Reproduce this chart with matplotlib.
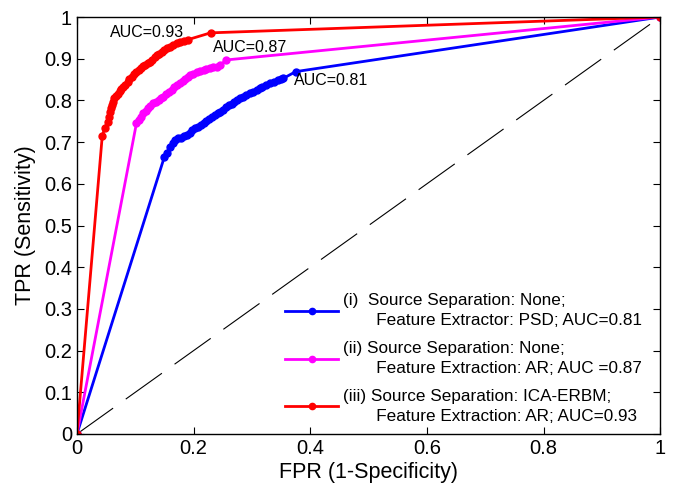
import matplotlib
matplotlib.use("Agg")
import matplotlib.pyplot as plt

plt.rcParams['font.family'] = ['Liberation Sans', 'DejaVu Sans']

# ROC curve data (FPR, TPR)
fpr_psd = [0.0, 0.150, 0.155, 0.160, 0.164, 0.168, 0.173, 0.178, 0.183, 0.188, 0.193, 0.198, 0.203,
           0.208, 0.213, 0.217, 0.222, 0.227, 0.232, 0.237, 0.241, 0.245, 0.250, 0.255, 0.260, 0.265,
           0.270, 0.274, 0.279, 0.284, 0.290, 0.296, 0.302, 0.308, 0.313, 0.318, 0.324, 0.331, 0.337,
           0.344, 0.350, 0.354, 0.375, 1.0]
tpr_psd = [0.0, 0.665, 0.675, 0.689, 0.698, 0.705, 0.709, 0.711, 0.714, 0.717, 0.722, 0.728, 0.733,
           0.737, 0.741, 0.745, 0.750, 0.755, 0.760, 0.764, 0.769, 0.773, 0.778, 0.783, 0.788, 0.792,
           0.797, 0.801, 0.805, 0.809, 0.812, 0.817, 0.821, 0.825, 0.829, 0.832, 0.836, 0.841, 0.844,
           0.848, 0.851, 0.853, 0.869, 1.0]

fpr_ar = [0.0, 0.102, 0.106, 0.110, 0.114, 0.118, 0.122, 0.126, 0.131, 0.135, 0.140, 0.144, 0.148,
          0.153, 0.158, 0.163, 0.167, 0.171, 0.176, 0.181, 0.186, 0.190, 0.194, 0.199, 0.205, 0.211,
          0.217, 0.222, 0.228, 0.234, 0.240, 0.245, 0.256, 1.0]
tpr_ar = [0.0, 0.745, 0.752, 0.760, 0.769, 0.775, 0.781, 0.787, 0.793, 0.797, 0.801, 0.805, 0.809,
          0.815, 0.821, 0.826, 0.831, 0.837, 0.842, 0.847, 0.852, 0.857, 0.861, 0.864, 0.868, 0.871,
          0.873, 0.875, 0.877, 0.879, 0.881, 0.884, 0.897, 1.0]

fpr_ica = [0.0, 0.0434, 0.0480, 0.0526, 0.0545, 0.0566, 0.0585, 0.0600, 0.0620, 0.0640, 0.0670, 0.0700,
           0.0730, 0.0760, 0.0795, 0.0830, 0.0870, 0.0900, 0.0940, 0.0980, 0.1020, 0.1060, 0.1100,
           0.1130, 0.1170, 0.1210, 0.1250, 0.1290, 0.1330, 0.1370, 0.1410, 0.1450, 0.1500, 0.1550,
           0.1600, 0.1650, 0.1710, 0.1760, 0.1830, 0.1910, 0.2290, 1.0]
tpr_ica = [0.0, 0.715, 0.735, 0.749, 0.760, 0.773, 0.781, 0.790, 0.797, 0.805, 0.810, 0.816,
           0.822, 0.828, 0.833, 0.838, 0.845, 0.851, 0.857, 0.863, 0.869, 0.873, 0.878,
           0.882, 0.886, 0.890, 0.893, 0.898, 0.903, 0.908, 0.912, 0.917, 0.921, 0.925,
           0.929, 0.933, 0.937, 0.939, 0.942, 0.946, 0.962, 1.0]

labels = [
    "(i)  Source Separation: None;\n       Feature Extractor: PSD; AUC=0.81",
    "(ii) Source Separation: None;\n       Feature Extraction: AR; AUC =0.87",
    "(iii) Source Separation: ICA-ERBM;\n       Feature Extraction: AR; AUC=0.93",
]
auc_texts = ["AUC=0.81", "AUC=0.87", "AUC=0.93"]
xticks = [0, 0.2, 0.4, 0.6, 0.8, 1]
yticks = [0, 0.1, 0.2, 0.3, 0.4, 0.5, 0.6, 0.7, 0.8, 0.9, 1]

fig = plt.figure(figsize=(6.87, 4.86), dpi=100)
ax = fig.add_axes([0.112, 0.107, 0.849, 0.858])

ax.plot([0, 1], [0, 1], color='black', lw=0.8, dashes=(40, 14))
ax.plot(fpr_psd, tpr_psd, color=(0, 0, 1), lw=2, marker='o', ms=5, label=labels[0])
ax.plot(fpr_ar, tpr_ar, color=(1, 0, 1), lw=2, marker='o', ms=5, label=labels[1])
ax.plot(fpr_ica, tpr_ica, color=(1, 0, 0), lw=2, marker='o', ms=5, label=labels[2])

ax.text(0.372, 0.847, auc_texts[0], fontsize=11.5, va='center', ha='left')
ax.text(0.233, 0.928, auc_texts[1], fontsize=11.5, va='center', ha='left')
ax.text(0.057, 0.964, auc_texts[2], fontsize=11.5, va='center', ha='left')

ax.set_xlim(0, 1)
ax.set_ylim(0, 1)
ax.set_xticks(xticks)
ax.set_xticklabels([f"{t:g}" for t in xticks])
ax.set_yticks(yticks)
ax.set_yticklabels([f"{t:g}" for t in yticks])
ax.tick_params(direction='in', length=5, top=True, right=True, labelsize=14.5, width=0.8)
for s in ax.spines.values():
    s.set_linewidth(1.0)

ax.set_xlabel("FPR (1-Specificity)", fontsize=15.5, labelpad=3)
ax.set_ylabel("TPR (Sensitivity)", fontsize=15.5, labelpad=6)

leg = ax.legend(loc='lower right', bbox_to_anchor=(0.987, 0.0), frameon=False,
                fontsize=12.3, handlelength=3.1, handletextpad=0.3,
                labelspacing=0.77, borderaxespad=0.2, markerscale=0.9)
for t in leg.get_texts():
    t.set_linespacing(1.39)

fig.savefig("out.png", dpi=100)
